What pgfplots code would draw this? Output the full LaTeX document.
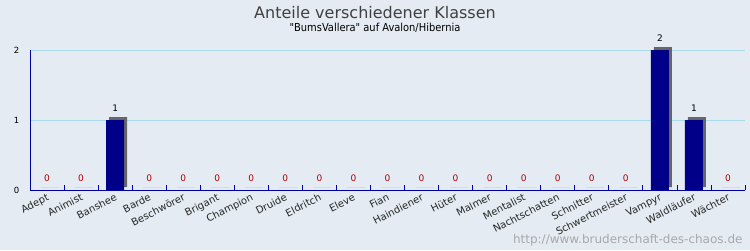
\documentclass[border=0pt]{standalone}
\usepackage{pgfplots}
\pgfplotsset{compat=1.18}
\usepackage{fontspec}
\setmainfont{DejaVu Sans}
\newfontfamily\cond{DejaVu Sans Condensed}
\definecolor{bg}{HTML}{E4EBF2}
\definecolor{axisblue}{HTML}{0000A0}
\definecolor{gridblue}{HTML}{A8DCEC}
\definecolor{barnavy}{HTML}{000088}
\definecolor{shadowgray}{HTML}{666666}
\definecolor{zred}{HTML}{B00000}
\definecolor{wm}{HTML}{A8A8A8}
\begin{document}
\begin{tikzpicture}[x=1pt,y=1pt]
\fill[bg] (0,0) rectangle (750,250);
\useasboundingbox (0,0) rectangle (750,250);
\node[font=\fontsize{16}{19}\selectfont, text=black!75] at (375,237) {Anteile verschiedener Klassen};
\node[font=\cond\fontsize{11}{13}\selectfont] at (375,222) {"BumsVallera" auf Avalon/Hibernia};
\node[font=\fontsize{12}{14}\selectfont, text=wm, anchor=east] at (746,10) {http://www.bruderschaft-des-chaos.de};
\begin{axis}[
  at={(30pt,60pt)}, anchor=south west,
  scale only axis, width=715pt, height=140pt,
  xmin=-0.5, xmax=20.5, ymin=0, ymax=2,
  clip=false,
  /pgf/number format/assume math mode=true,
  axis x line=bottom, axis y line=left,
  axis line style={-, draw=axisblue, line width=0.8pt},
  xtick={0,...,20},
  xticklabels={Adept,Animist,Banshee,Barde,Beschwörer,Brigant,Champion,Druide,Eldritch,Eleve,Fian,Haindiener,Hüter,Malmer,Mentalist,Nachtschatten,Schnitter,Schwertmeister,Vampyr,Waldläufer,Wächter},
  major x tick style={draw=none},
  minor xtick={0.5,1.5,...,20.5},
  minor x tick style={draw=axisblue, line width=0.8pt},
  minor tick length=5pt,
  xtick align=inside,
  x tick label style={rotate=27, anchor=north east, font=\fontsize{10}{11}\selectfont, text=black!85, inner sep=1pt, xshift=-1pt, yshift=-1pt},
  ytick={0,1,2},
  y tick style={draw=none},
  y tick label style={font=\fontsize{8.5}{10}\selectfont, xshift=-5pt},
  ymajorgrids, major grid style={draw=gridblue, line width=0.8pt},
]
% shadows
\addplot[ybar, bar width=18pt, bar shift=3pt, fill=shadowgray, draw=none, yshift=3pt]
  coordinates {(0,0) (1,0) (2,1) (3,0) (4,0) (5,0) (6,0) (7,0) (8,0) (9,0) (10,0) (11,0) (12,0) (13,0) (14,0) (15,0) (16,0) (17,0) (18,2) (19,1) (20,0)};
% bars
\addplot[ybar, bar width=18pt, bar shift=0pt, fill=barnavy, draw=none]
  coordinates {(0,0) (1,0) (2,1) (3,0) (4,0) (5,0) (6,0) (7,0) (8,0) (9,0) (10,0) (11,0) (12,0) (13,0) (14,0) (15,0) (16,0) (17,0) (18,2) (19,1) (20,0)};
% labels of nonzero bars
\addplot[only marks, mark=none, nodes near coords,
  every node near coord/.style={anchor=base, yshift=9pt, font=\fontsize{9}{10}\selectfont, text=black}]
  coordinates {(2,1) (18,2) (19,1)};
% labels of zero bars
\addplot[only marks, mark=none, nodes near coords,
  every node near coord/.style={anchor=base, yshift=9pt, font=\fontsize{9}{10}\selectfont, text=zred}]
  coordinates {(0,0) (1,0) (3,0) (4,0) (5,0) (6,0) (7,0) (8,0) (9,0) (10,0) (11,0) (12,0) (13,0) (14,0) (15,0) (16,0) (17,0) (20,0)};
\end{axis}
\end{tikzpicture}
\end{document}
